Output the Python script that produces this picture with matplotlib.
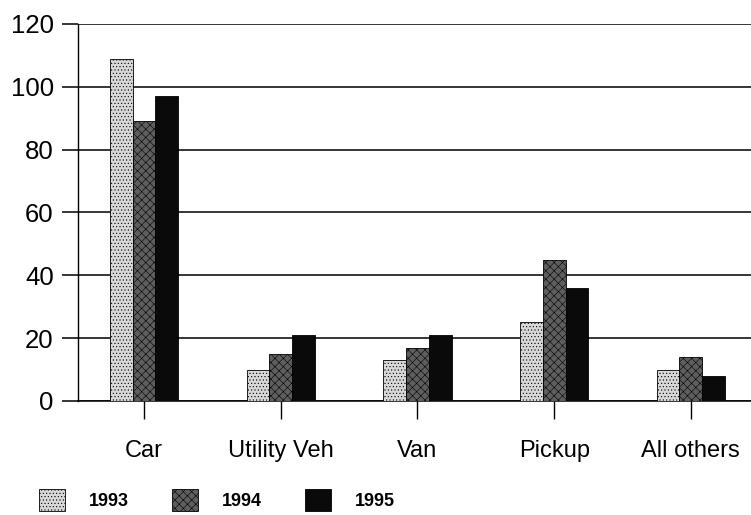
import matplotlib.pyplot as plt
import numpy as np

plt.rcParams['font.family'] = ['Liberation Sans', 'DejaVu Sans']
plt.rcParams['hatch.linewidth'] = 0.4

categories = ['Car', 'Utility Veh', 'Van', 'Pickup', 'All others']
years = ['1993', '1994', '1995']
values_1993 = [109, 10, 13, 25, 10]
values_1994 = [89, 15, 17, 45, 14]
values_1995 = [97, 21, 21, 36, 8]

fig = plt.figure(figsize=(7.51, 5.15), dpi=100)
ax = fig.add_axes([0.1039, 0.2214, 0.8961, 0.732])

x = np.arange(len(categories))
w = 0.167
styles = [
    dict(facecolor='#d8d8d8', hatch='.....'),
    dict(facecolor='#5e5e5e', hatch='xxxx'),
    dict(facecolor='#0a0a0a', hatch=None),
]
for i, (vals, year) in enumerate(zip([values_1993, values_1994, values_1995], years)):
    ax.bar(x + (i - 1) * w, vals, w, label=year, edgecolor='black',
           linewidth=0.6, zorder=3, **styles[i])

ax.set_ylim(0, 120)
ax.set_xlim(-0.483, 4.44)
ax.set_yticks(range(0, 121, 20))
ax.yaxis.grid(True, color='black', linewidth=1.1, zorder=0)
ax.set_xticks(x)
ax.set_xticklabels(categories, fontsize=17)
ax.tick_params(axis='x', direction='out', length=13, width=1, pad=15)
ax.tick_params(axis='y', direction='out', length=11.5, width=1.1, pad=6,
               labelsize=18.5)
for s in ['top', 'right']:
    ax.spines[s].set_visible(False)
ax.spines['left'].set_linewidth(1)
ax.spines['bottom'].set_linewidth(1.1)

fig.legend(loc='upper left', bbox_to_anchor=(0.052, 0.05), ncol=3,
           frameon=False, prop={'size': 13, 'weight': 'bold'},
           handlelength=1.45, handleheight=1.45, handletextpad=1.3,
           columnspacing=2.4, borderaxespad=0, borderpad=0)

fig.savefig('out.png', dpi=100)
